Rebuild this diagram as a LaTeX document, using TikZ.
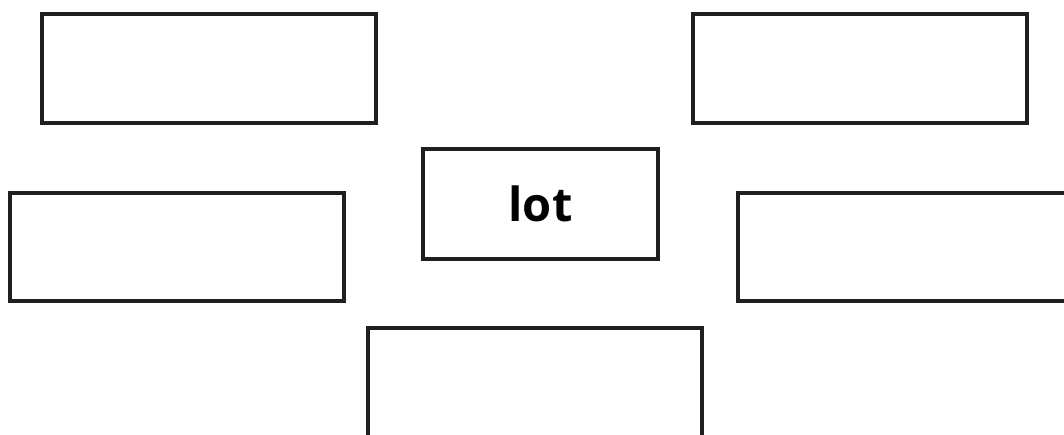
\documentclass[tikz,border=0pt]{standalone}
\usepackage{fontspec}
\setsansfont{Open Sans}
\usetikzlibrary{positioning}

\begin{document}
\begin{tikzpicture}[
    x=1pt, y=-1pt,
    wordbox/.style={
        draw=black!88,
        line width=4pt,
        minimum width=334pt,
        minimum height=109pt,
        inner sep=0pt,
        outer sep=0pt,
        fill=white
    }
]
\useasboundingbox (0,0) rectangle (1064,434);
\clip (0,0) rectangle (1064,434);

\node[wordbox, minimum width=235pt, minimum height=110pt,
      font=\sffamily\bfseries\fontsize{47}{50}\selectfont] (lot) at (540.5,204) {lot};

\node[wordbox] (topleft) at (209,68.5) {};
\node[wordbox, right=317pt of topleft] (topright) {};

\node[wordbox, minimum height=108pt] (midleft) at (177,247) {};
\node[wordbox, minimum height=108pt] (midright) at (905,247) {};

\node[wordbox, minimum height=110pt, below=0pt of lot.south, yshift=-69pt, xshift=-5.5pt] (bottom) {};

\end{tikzpicture}
\end{document}
